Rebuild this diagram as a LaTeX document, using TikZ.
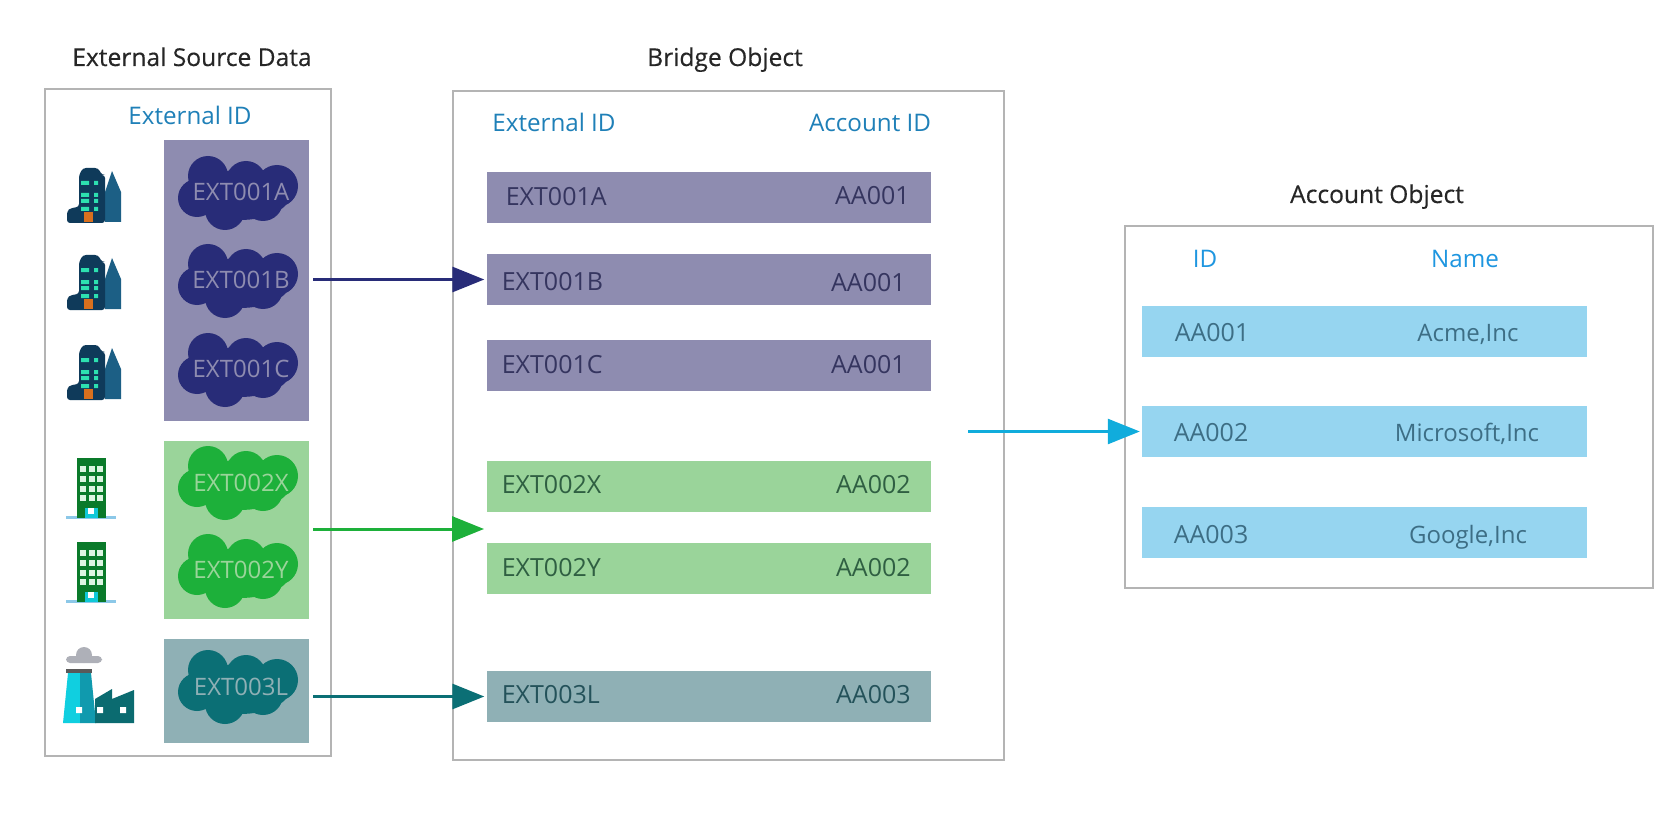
\documentclass[tikz,border=0pt]{standalone}
\usepackage{fontspec}
\setmainfont{Open Sans}
\newfontfamily\titlefont[FakeBold=0.4]{Open Sans}
\usetikzlibrary{positioning,arrows.meta}

\definecolor{framegray}{HTML}{B4B4B4}
\definecolor{headblue}{HTML}{1F80B8}
\definecolor{namedblue}{HTML}{1E96E0}
\definecolor{navyfill}{HTML}{8E8CB0}
\definecolor{navydark}{HTML}{282C78}
\definecolor{navytext}{HTML}{35355F}
\definecolor{greenfill}{HTML}{9AD49A}
\definecolor{greendark}{HTML}{1DB03A}
\definecolor{greentext}{HTML}{2F5F42}
\definecolor{tealfill}{HTML}{8FB0B5}
\definecolor{tealdark}{HTML}{0B6F75}
\definecolor{tealtext}{HTML}{24525A}
\definecolor{cyanfill}{HTML}{96D5F0}
\definecolor{cyandark}{HTML}{10ACDC}
\definecolor{cyantext}{HTML}{3D6E85}
\definecolor{cityarea}{HTML}{1C5F85}
\definecolor{citydark}{HTML}{0F3A5A}
\definecolor{citywin}{HTML}{2DE0B0}
\definecolor{citydoor}{HTML}{D9701E}
\definecolor{officeground}{HTML}{8CC8E8}
\definecolor{officebody}{HTML}{0A7A2A}
\definecolor{officewin}{HTML}{DDF5E2}
\definecolor{officedoor}{HTML}{10C8D8}
\definecolor{smokegray}{HTML}{AEB0B8}
\definecolor{stackcyan}{HTML}{10CFE0}
\definecolor{stackteal}{HTML}{109AAE}
\definecolor{shedteal}{HTML}{0B6B70}

\tikzset{
  frame/.style    = {draw=framegray, line width=2.4pt, fill=white, minimum width=#1, inner sep=0pt},
  band/.style     = {minimum width=#1, minimum height=51pt, inner sep=0pt},
  title/.style    = {font=\titlefont\fontsize{24.6}{26}\selectfont, text=black!85, text height=18pt, text depth=0pt},
  header/.style   = {font=\fontsize{24.2}{26}\selectfont, text=headblue, text height=18pt, text depth=0pt},
  cell/.style     = {font=\fontsize{25}{26}\selectfont, text height=18pt, text depth=0pt},
  namecell/.style = {font=\fontsize{24}{26}\selectfont, text height=18pt, text depth=0pt},
  ontext/.style   = {font=\fontsize{24}{26}\selectfont, text height=18pt, text depth=0pt},
  flow/.style     = {line width=3pt, -{Triangle[length=32pt,width=25pt]}, shorten >=2pt, shorten <=4pt},
  pics/sfcloud/.style = {code = {
    \fill[pic actions] (-29,-17) circle (20pt) (9,-12) circle (20pt) (40,-7) circle (21pt)
      (-40,5) circle (19pt) (-12,17) circle (20pt) (26,8) circle (20pt) (3,2) ellipse (50pt and 25pt);
  }},
  pics/city/.style = {code = {
    \fill[fill=cityarea] (38,55) -- (38,25) -- (45,4) -- (54,25) -- (54,55) -- cycle;
    \fill[fill=citydark, rounded corners=3pt] (0,56) -- (0,44) -- (4,41) -- (12,40) -- (12,8) -- (16,1) -- (31,1) -- (35,8) -- (38,8) -- (38,56) -- cycle;
    \fill[fill=citywin] (14,14) rectangle (22,18) (14,26) rectangle (22,30) (14,32) rectangle (22,36) (14,40) rectangle (22,44)
      (27,14) rectangle (31,18) (27,26) rectangle (31,30) (27,32) rectangle (31,36) (27,40) rectangle (31,44);
    \fill[fill=citydoor] (17,45) rectangle (26,55);
  }},
  pics/office/.style = {code = {
    \draw[line width=3pt, officeground] (0,59) -- (50,59);
    \fill[fill=officebody] (11,0) rectangle (40,60);
    \foreach \wx in {14,23,31} \foreach \wy in {8,18,28,37} {
      \fill[fill=officewin] (\wx,\wy) rectangle ++(6,6);
    }
    \fill[fill=officedoor] (19,50) rectangle (32,60);
    \fill[fill=white] (22,50) rectangle (28,56);
  }},
  pics/factory/.style = {code = {
    \fill[fill=smokegray] (21,8) circle (8pt);
    \fill[fill=smokegray, rounded corners=4pt] (3,16) -- (3,9) -- (39,9) -- (39,16) -- cycle;
    \fill[fill=black!65] (3,22) rectangle (29,26);
    \fill[fill=stackcyan] (5,26) -- (17,26) -- (17,76) -- (0,76) -- cycle;
    \fill[fill=stackteal] (17,26) -- (28,26) -- (33,76) -- (17,76) -- cycle;
    \fill[fill=shedteal] (32,76) -- (32,52) -- (49,42) -- (49,52) -- (71,43) -- (71,76) -- cycle;
    \fill[fill=white] (13,60) rectangle ++(6,6) (34,60) rectangle ++(6,6) (57,60) rectangle ++(6,6);
  }}
}

\begin{document}
\begin{tikzpicture}[x=1pt, y=-1pt]
    \useasboundingbox (0,0) rectangle (1680,834);

    % source data
    \node (sourcebox)   [frame=286pt, minimum height=667pt] at (188,422.5) {};
    \node (sourcetitle) [title]  at (192,57)  {External Source Data};
    \node (sourcehead)  [header] at (190,116) {External ID};

    \node (purpleblock) [fill=navyfill, minimum width=145pt, minimum height=281pt, inner sep=0pt]  at (236.5,280.5) {};
    \node (greenblock)  [fill=greenfill, minimum width=145pt, minimum height=178pt, inner sep=0pt] at (236.5,530) {};
    \node (tealblock)   [fill=tealfill, minimum width=145pt, minimum height=104pt, inner sep=0pt]  at (236.5,691) {};

    \pic[fill=navydark]  at (237,193) {sfcloud};
    \pic[fill=navydark]  at (237,281) {sfcloud};
    \pic[fill=navydark]  at (237,370) {sfcloud};
    \pic[fill=greendark] at (237,483) {sfcloud};
    \pic[fill=greendark] at (237,571) {sfcloud};
    \pic[fill=tealdark]  at (237,687) {sfcloud};

    \node (clouda) [ontext, text=navyfill]  at (241,192) {EXT001A};
    \node (cloudb) [ontext, text=navyfill]  at (241,279) {EXT001B};
    \node (cloudc) [ontext, text=navyfill]  at (241,368) {EXT001C};
    \node (cloudx) [ontext, text=greenfill] at (241,482) {EXT002X};
    \node (cloudy) [ontext, text=greenfill] at (241,569) {EXT002Y};
    \node (cloudl) [ontext, text=tealfill]  at (241,686) {EXT003L};

    \pic at (67,167) {city};
    \pic at (67,254) {city};
    \pic at (67,344) {city};
    \pic at (66,458) {office};
    \pic at (66,542) {office};
    \pic at (63,647) {factory};

    % bridge object
    \node (bridgebox)   [frame=551pt, minimum height=669pt] at (728.5,425.5) {};
    \node (bridgetitle) [title]  at (725,57)  {Bridge Object};
    \node (bridgeext)   [header] at (554,123) {External ID};
    \node (bridgeacc)   [header] at (870,123) {Account ID};

    \node (rowa) [band=444.5pt, fill=navyfill]  at (708.75,197.5) {};
    \node (rowb) [band=444.5pt, fill=navyfill]  at (708.75,279.5) {};
    \node (rowc) [band=444.5pt, fill=navyfill]  at (708.75,365.5) {};
    \node (rowx) [band=444.5pt, fill=greenfill] at (708.75,486.5) {};
    \node (rowy) [band=444.5pt, fill=greenfill] at (708.75,568.5) {};
    \node (rowl) [band=444.5pt, fill=tealfill]  at (708.75,696.5) {};

    \node (rowaext) [cell, text=navytext, yshift=1pt, right=16pt of rowa.west]   {EXT001A};
    \node (rowaacc) [cell, text=navytext, yshift=2pt, left=18pt of rowa.east]    {AA001};
    \node (rowbext) [cell, text=navytext, yshift=-2pt, right=12pt of rowb.west]  {EXT001B};
    \node (rowbacc) [cell, text=navytext, yshift=-3pt, left=22pt of rowb.east]   {AA001};
    \node (rowcext) [cell, text=navytext, yshift=1pt, right=12pt of rowc.west]   {EXT001C};
    \node (rowcacc) [cell, text=navytext, yshift=1pt, left=22pt of rowc.east]    {AA001};
    \node (rowxext) [cell, text=greentext, yshift=2pt, right=12pt of rowx.west]  {EXT002X};
    \node (rowxacc) [cell, text=greentext, yshift=2pt, left=17pt of rowx.east]   {AA002};
    \node (rowyext) [cell, text=greentext, yshift=1pt, right=12pt of rowy.west]  {EXT002Y};
    \node (rowyacc) [cell, text=greentext, yshift=1pt, left=17pt of rowy.east]   {AA002};
    \node (rowlext) [cell, text=tealtext, yshift=2pt, right=12pt of rowl.west]   {EXT003L};
    \node (rowlacc) [cell, text=tealtext, yshift=2pt, left=17pt of rowl.east]    {AA003};

    % account object
    \node (accountbox)   [frame=528pt, minimum height=362pt] at (1389,407) {};
    \node (accounttitle) [title] at (1377,194) {Account Object};
    \node (accountid)    [header, text=namedblue] at (1205,259) {ID};
    \node (accountname)  [header, text=namedblue] at (1465,259) {Name};

    \node (accrowa) [band=445pt, fill=cyanfill] at (1364.5,331.5) {};
    \node (accrowb) [band=445pt, fill=cyanfill] at (1364.5,431.5) {};
    \node (accrowc) [band=445pt, fill=cyanfill] at (1364.5,532.5) {};

    \node (acca)     [cell, text=cyantext] at (1212,332) {AA001};
    \node (accb)     [cell, text=cyantext] at (1211,432) {AA002};
    \node (accc)     [cell, text=cyantext] at (1211,534) {AA003};
    \node (accacme)  [namecell, text=cyantext] at (1468,332) {Acme,Inc};
    \node (accms)    [namecell, text=cyantext] at (1467,432) {Microsoft,Inc};
    \node (accgoog)  [namecell, text=cyantext] at (1468,534) {Google,Inc};

    \coordinate (greenend)  at (486,529);
    \coordinate (bridgeout) at (964,431.5);

    \draw[flow, draw=navydark]  (purpleblock.east |- rowb.west) to (rowb.west);
    \draw[flow, draw=greendark] (greenblock.east |- greenend) to (greenend);
    \draw[flow, draw=tealdark]  (tealblock.east |- rowl.west) to (rowl.west);
    \draw[flow, draw=cyandark, line width=2.5pt] (bridgeout) to (accrowb.west);

\end{tikzpicture}
\end{document}
